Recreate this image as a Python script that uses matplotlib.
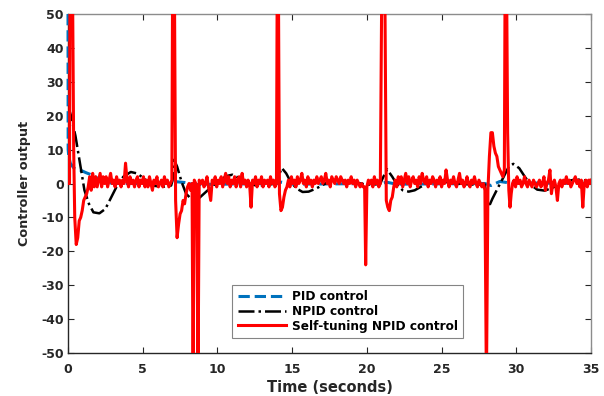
import matplotlib
matplotlib.use("Agg")
import matplotlib.pyplot as plt

# ---------------- data ----------------
t_pid = [0.0, 0.01, 0.05, 0.15, 0.4, 0.8, 1.2, 1.6, 2.0, 2.5, 3.0, 7.0, 7.3, 7.8, 8.5, 14.0, 14.3, 15.0, 21.0, 21.3, 22.0,
         27.9, 28.3, 28.9, 29.5, 35.0]
u_pid = [50, 10, 8, 6, 4.5, 4, 3.2, 2.5, 1.5, 0.5, 0, 0, 0.5, 0.3, -0.3, 0, 0.4, -0.2, 0, 0.4, -0.2,
         0, -0.6, 0.6, 0.2, 0]

t_npid = [0.0, 0.2, 0.5, 0.8, 1.1, 1.4, 1.7, 2.1, 2.5, 2.9, 3.3, 3.7, 4.2, 4.6, 5.0, 5.4, 5.8, 6.3, 6.9,
          7.0, 7.1, 7.3, 7.6, 7.9, 8.3, 8.7, 9.1, 9.6, 10.1, 10.6, 11.0, 11.5, 12.0, 12.5, 13.0, 13.5, 13.9,
          14.0, 14.3, 14.6, 14.9, 15.3, 15.7, 16.1, 16.6, 17.1, 17.5, 18.0, 18.5, 19.0, 19.5, 20.0, 20.5, 20.9,
          21.0, 21.35, 21.7, 22.0, 22.4, 22.8, 23.2, 23.6, 24.0, 24.5, 25.0, 25.5, 26.0, 27.0, 27.9,
          28.0, 28.15, 28.4, 28.8, 29.1, 29.5, 29.8, 30.2, 30.6, 31.0, 31.4, 31.9, 32.4, 33.0, 33.5, 34.0, 34.5, 35.0]
u_npid = [23, 20, 14, 6, -2, -6, -8.5, -8.8, -7.5, -4, -0.5, 2, 3.4, 3, 1.8, 0.3, -0.7, -1, -0.6,
          1, 7, 5, 0.5, -3, -4.8, -4.6, -3, -1, 0.8, 2.2, 2.6, 1.5, 0.2, -0.5, -0.6, -0.3, 0,
          1, 4.6, 3, 0.5, -1.5, -2.5, -2.4, -1.5, -0.3, 0.6, 1.2, 0.8, 0.3, 0, -0.3, -0.3, -0.1,
          1, 4.2, 2, -0.2, -2, -2.4, -2, -1, 0, 0.7, 0.6, 0.3, 0, -0.3, -0.3,
          -4, -7, -4.5, -1, 1.5, 5, 5.8, 4.5, 1.8, -0.5, -1.8, -2.1, -1.3, 0, 0.8, 1.2, 1.0, 0.5]

t_st = [0.00, 0.10, 0.13, 0.30, 0.38, 0.45, 0.55, 0.65, 0.75, 0.85, 0.95, 1.05, 1.15, 1.25, 1.35, 1.45, 1.55, 1.65,
        1.75, 1.85, 1.95, 2.05, 2.15, 2.25, 2.35, 2.45, 2.55, 2.65, 2.75, 2.85, 2.95, 3.05, 3.15, 3.25, 3.35,
        3.45, 3.55, 3.65, 3.75, 3.85, 3.95, 4.05, 4.15, 4.25, 4.35, 4.45, 4.55, 4.65, 4.75, 4.85, 4.95, 5.05,
        5.15, 5.25, 5.35, 5.45, 5.55, 5.65, 5.75, 5.85, 5.95, 6.05, 6.15, 6.25, 6.35, 6.45, 6.55, 6.65, 6.75,
        6.85, 6.95, 7.00, 7.12, 7.20, 7.30, 7.40, 7.50, 7.60, 7.70, 7.80, 7.90, 8.00, 8.10, 8.20, 8.30, 8.37,
        8.45, 8.55, 8.62, 8.70, 8.78, 8.90, 9.00, 9.10, 9.20, 9.30, 9.40, 9.55, 9.65, 9.75, 9.85, 9.95, 10.05,
        10.15, 10.25, 10.35, 10.45, 10.55, 10.65, 10.75, 10.85, 10.95, 11.05, 11.15, 11.25, 11.35, 11.45,
        11.55, 11.65, 11.75, 11.85, 11.95, 12.05, 12.15, 12.25, 12.35, 12.45, 12.55, 12.65, 12.75, 12.85,
        12.95, 13.05, 13.15, 13.25, 13.35, 13.45, 13.55, 13.65, 13.75, 13.85, 13.95, 14.00, 14.08, 14.15,
        14.25, 14.35, 14.45, 14.55, 14.65, 14.75, 14.85, 14.95, 15.05, 15.15, 15.25, 15.35, 15.45, 15.55,
        15.65, 15.75, 15.85, 15.95, 16.05, 16.15, 16.25, 16.35, 16.45, 16.55, 16.65, 16.75, 16.85, 16.95,
        17.05, 17.15, 17.25, 17.35, 17.45, 17.55, 17.65, 17.75, 17.85, 17.95, 18.05, 18.15, 18.25, 18.35,
        18.45, 18.55, 18.65, 18.75, 18.85, 18.95, 19.05, 19.15, 19.25, 19.35, 19.45, 19.55, 19.65, 19.75,
        19.85, 19.92, 20.00, 20.10, 20.20, 20.30, 20.40, 20.50, 20.60, 20.70, 20.80, 20.90, 21.00, 21.20,
        21.30, 21.40, 21.50, 21.60, 21.70, 21.80, 21.90, 22.00, 22.10, 22.20, 22.30, 22.40, 22.50, 22.60,
        22.70, 22.80, 22.90, 23.00, 23.10, 23.20, 23.30, 23.40, 23.50, 23.60, 23.70, 23.80, 23.90, 24.00,
        24.10, 24.20, 24.30, 24.40, 24.50, 24.60, 24.70, 24.80, 24.90, 25.00, 25.10, 25.20, 25.30, 25.40,
        25.50, 25.60, 25.70, 25.80, 25.90, 26.00, 26.10, 26.20, 26.30, 26.40, 26.50, 26.60, 26.70, 26.80,
        26.90, 27.00, 27.10, 27.20, 27.30, 27.40, 27.50, 27.60, 27.70, 27.80, 27.90, 28.00, 28.10, 28.20,
        28.30, 28.40, 28.50, 28.60, 28.70, 28.80, 28.90, 29.00, 29.10, 29.20, 29.25, 29.35, 29.42, 29.50,
        29.58, 29.66, 29.75, 29.85, 29.95, 30.05, 30.15, 30.25, 30.35, 30.45, 30.55, 30.65, 30.75, 30.85,
        30.95, 31.05, 31.15, 31.25, 31.35, 31.45, 31.55, 31.65, 31.75, 31.85, 31.95, 32.05, 32.15, 32.25,
        32.35, 32.45, 32.55, 32.65, 32.75, 32.85, 32.95, 33.05, 33.15, 33.25, 33.35, 33.45, 33.55, 33.65,
        33.75, 33.85, 33.95, 34.05, 34.15, 34.25, 34.35, 34.45, 34.55, 34.65, 34.75, 34.85, 34.95, 35.00]
u_st = [0, 0, 60, 60, 10, -10, -18, -16, -11, -10, -8, -5, -4, -3, -1, 2, -2, 3,
        -1, 2, -1, 1, 3, -1, 2, 0, 2, -1, 1, 3, 0, 1, -1, 2, 0,
        1, -1, 1, 0, 6, 1, -1, 2, 0, 1, -1, 1, 2, -1, 1, 0, 2,
        -1, 1, -1, 2, 0, -2, 1, 0, 2, -1, 0, 1, -1, 2, 0, 1, -1,
        0, 1, 60, 60, -5, -16, -12, -9, -8, -5, -6, -3, -1, 0, -2, 0, -60,
        1, 0, -1, -60, 1, 0, 1, -1, 0, 2, -1, -5, 1, 0, 2, -1, 1,
        0, 2, -1, 1, 3, 0, 2, -1, 1, 0, 2, -1, 1, 2,
        -1, 3, 0, 1, -1, 1, 0, -7, 1, 0, 2, -1, 1, 0,
        2, -1, 1, 0, 1, -1, 2, 0, 1, -1, 0, 60, 60, -3,
        -8, -7, -4, -2, -1, 1, -1, 2, 0, 1, -1, 2, 0, 1,
        3, 0, 1, -1, 2, 0, 1, -1, 1, 0, 2, 0, 1, 2,
        0, 1, 3, 0, 1, -1, 2, 1, 0, 2, 1, 0, 2, 1,
        0, 1, -1, 1, 0, 2, 0, 1, -1, 1, 0, -1, 0, -1,
        -1, -24, -1, 1, 0, 1, -1, 2, 0, 1, -1, 0, 60, 60,
        -5, -7, -8, -5, -4, -1, 1, -1, 2, 0, 2, -1, 1, 3,
        0, 2, -1, 1, 2, 0, 1, -1, 2, 0, 3, 1, 0, 2,
        -1, 1, 0, 2, 1, -1, 1, 0, 2, -1, 1, 0, 4, 1,
        -1, 1, 0, 2, 0, -1, 1, 3, 0, 1, -1, 0, 2, 0,
        -1, 1, 0, 2, 0, -1, 1, 0, -1, 0, -2, -60, -2, 8,
        15, 15, 11, 9, 8, 5, 4, 3, 2, 4, 60, 60, 15, -2,
        -7, -3, 0, 1, -1, 2, 0, 1, -1, 0, 2, 0, -1, 1,
        0, -1, 1, 0, -1, 0, 1, -1, 0, 2, -2, 0, 1, 4,
        -3, 0, 1, -1, -5, 0, 1, -1, 1, 0, 2, 0, 1, -1,
        0, 1, 2, 0, 1, -1, 1, -7, 0, 1, -1, 1, 0, 1]

x_ticks = [0, 5, 10, 15, 20, 25, 30, 35]
y_ticks = [-50, -40, -30, -20, -10, 0, 10, 20, 30, 40, 50]
labels = ["PID control", "NPID control", "Self-tuning NPID control"]

# ---------------- figure ----------------
plt.rcParams['font.family'] = ['DejaVu Sans']
plt.rcParams['font.weight'] = 'bold'
plt.rcParams['axes.unicode_minus'] = False

fig = plt.figure(figsize=(6.04, 3.96), dpi=100)
ax = fig.add_axes([0.1126, 0.1086, 0.8659, 0.856])

ax.plot(t_pid, u_pid, color='#0072BD', lw=2.2, ls='--', label=labels[0], zorder=3, clip_on=False)
ax.plot(t_npid, u_npid, color='black', lw=1.8, ls='-.', label=labels[1], zorder=4)
ax.plot(t_st, u_st, color='#FF0000', lw=2.2, ls='-', label=labels[2], zorder=5)

ax.set_xlim(0, 35)
ax.set_ylim(-50, 50)
ax.set_xticks(x_ticks)
ax.set_yticks(y_ticks)
ax.tick_params(direction='in', top=True, right=True, length=4, width=0.8,
               labelsize=9, colors='#262626')
ax.tick_params(axis='x', pad=7)
ax.tick_params(axis='y', pad=3)
for lab in ax.get_xticklabels() + ax.get_yticklabels():
    lab.set_fontweight('bold')
ax.spines['left'].set_color('#262626')
ax.spines['bottom'].set_color('#262626')
ax.spines['top'].set_color('#8c8c8c')
ax.spines['right'].set_color('#8c8c8c')
for s in ax.spines.values():
    s.set_linewidth(1.0)

ax.set_xlabel('Time (seconds)', fontsize=10.5, fontweight='bold', color='#262626', labelpad=3)
ax.set_ylabel('Controller output', fontsize=9.2, fontweight='bold', color='#262626', labelpad=7)

leg = ax.legend(loc='lower left', bbox_to_anchor=(0.314, 0.044), fontsize=8.7,
                frameon=True, fancybox=False, edgecolor='#666666', handlelength=4.0,
                labelspacing=0.15, borderpad=0.45, handletextpad=0.5, borderaxespad=0)
leg.get_frame().set_linewidth(0.8)
for txt in leg.get_texts():
    txt.set_fontweight('bold')

fig.savefig('out.png', dpi=100)
